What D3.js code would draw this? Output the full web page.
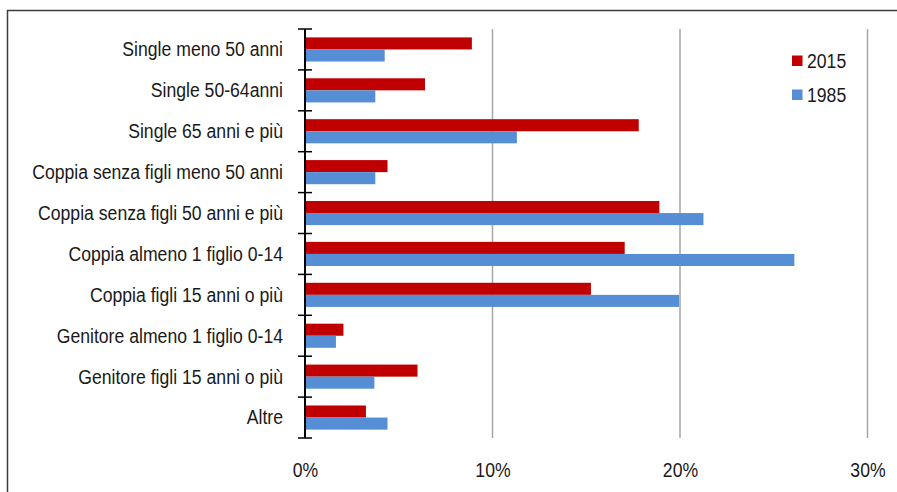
<!DOCTYPE html>
<html>
<head>
<meta charset="utf-8">
<script src="https://cdn.jsdelivr.net/npm/d3@7"></script>
<style>
  html, body { margin: 0; padding: 0; background: #fff; }
  svg text { font-family: "Liberation Sans Narrow", "Arial Narrow", "Liberation Sans", Arial, sans-serif; fill: #1a1a1a; }
</style>
</head>
<body>
<svg id="chart" width="897" height="492"></svg>
<script>
// Household types
const categories = [
  "Single meno 50 anni",
  "Single 50-64anni",
  "Single 65 anni e più",
  "Coppia senza figli meno 50 anni",
  "Coppia senza figli 50 anni e più",
  "Coppia almeno 1 figlio 0-14",
  "Coppia figli 15 anni o più",
  "Genitore almeno 1 figlio 0-14",
  "Genitore figli 15 anni o più",
  "Altre"
];
const seriesNames = ["2015", "1985"];
const values2015 = [8.9, 6.4, 17.8, 4.4, 18.9, 17.05, 15.25, 2.05, 6.0, 3.25];
const values1985 = [4.25, 3.75, 11.3, 3.75, 21.25, 26.1, 19.95, 1.65, 3.7, 4.4];
const seriesColors = ["#C00000", "#558ED5"];
const xTicks = [0, 10, 20, 30];

// narrow face emulated by horizontal compression of the regular sans face
const NARROW = 0.84;

const svg = d3.select("#chart");

// outer frame (left and top edges visible)
svg.append("rect")
  .attr("x", 7.5).attr("y", 10.5)
  .attr("width", 920).attr("height", 520)
  .attr("fill", "none").attr("stroke", "#3c3c3c").attr("stroke-width", 1.5);

const x = d3.scaleLinear().domain([0, 30]).range([305, 867.5]);
const y = d3.scaleBand().domain(categories).range([29, 438])
  .paddingInner(0.41).paddingOuter(0.205);
const ySub = d3.scaleBand().domain(seriesNames).range([0, y.bandwidth()]);

// vertical gridlines
svg.append("g").selectAll("line")
  .data(xTicks.filter(t => t > 0))
  .join("line")
  .attr("x1", d => x(d)).attr("x2", d => x(d))
  .attr("y1", 29).attr("y2", 438)
  .attr("stroke", "#a6a6a6").attr("stroke-width", 1.5);

// x tick labels
const xAxis = d3.axisBottom(x).tickValues(xTicks).tickFormat(d => d + "%").tickSize(0).tickPadding(0);
const gx = svg.append("g").attr("transform", "translate(0,462)").call(xAxis);
gx.select(".domain").remove();
gx.selectAll("text").attr("font-size", 21)
  .style("font-family", '"Liberation Sans Narrow", "Arial Narrow", "Liberation Sans", Arial, sans-serif')
  .attr("fill", "#1a1a1a")
  .attr("transform", `scale(${NARROW},1)`);

// bars
const rows = categories.map((c, i) => ({ cat: c, vals: [values2015[i], values1985[i]] }));
const groups = svg.append("g").selectAll("g")
  .data(rows).join("g")
  .attr("transform", d => `translate(0,${y(d.cat)})`);
groups.selectAll("rect")
  .data(d => d.vals.map((v, k) => ({ key: seriesNames[k], v, color: seriesColors[k] })))
  .join("rect")
  .attr("x", x(0))
  .attr("y", d => ySub(d.key))
  .attr("width", d => x(d.v) - x(0))
  .attr("height", ySub.bandwidth())
  .attr("fill", d => d.color);

// category axis with cross ticks at band boundaries
const step = y.step();
const y0 = y.range()[0];
const boundaries = d3.range(categories.length + 1).map(i => y0 + i * step);
const gy = svg.append("g");
gy.append("line")
  .attr("x1", x(0)).attr("x2", x(0)).attr("y1", y0).attr("y2", y.range()[1])
  .attr("stroke", "#000").attr("stroke-width", 2);
gy.selectAll("line.tk").data(boundaries).join("line").attr("class", "tk")
  .attr("x1", x(0) - 7).attr("x2", x(0) + 7)
  .attr("y1", d => d).attr("y2", d => d)
  .attr("stroke", "#000").attr("stroke-width", 1.5);
gy.selectAll("text").data(categories).join("text")
  .attr("transform", d => `translate(283,${y(d) + y.bandwidth() / 2 - 0.5}) scale(${NARROW},1)`)
  .attr("dy", "0.35em")
  .attr("text-anchor", "end")
  .attr("font-size", 21)
  .text(d => d);

// legend
const legend = svg.append("g").selectAll("g")
  .data(seriesNames).join("g")
  .attr("transform", (d, i) => `translate(792,${61 + i * 34})`);
legend.append("rect")
  .attr("x", 0).attr("y", -5.5).attr("width", 10.5).attr("height", 10.5)
  .attr("fill", (d, i) => seriesColors[i]);
legend.append("text")
  .attr("transform", `translate(15,0) scale(${NARROW},1)`)
  .attr("dy", "0.35em")
  .attr("font-size", 21)
  .text(d => d);
</script>
</body>
</html>
